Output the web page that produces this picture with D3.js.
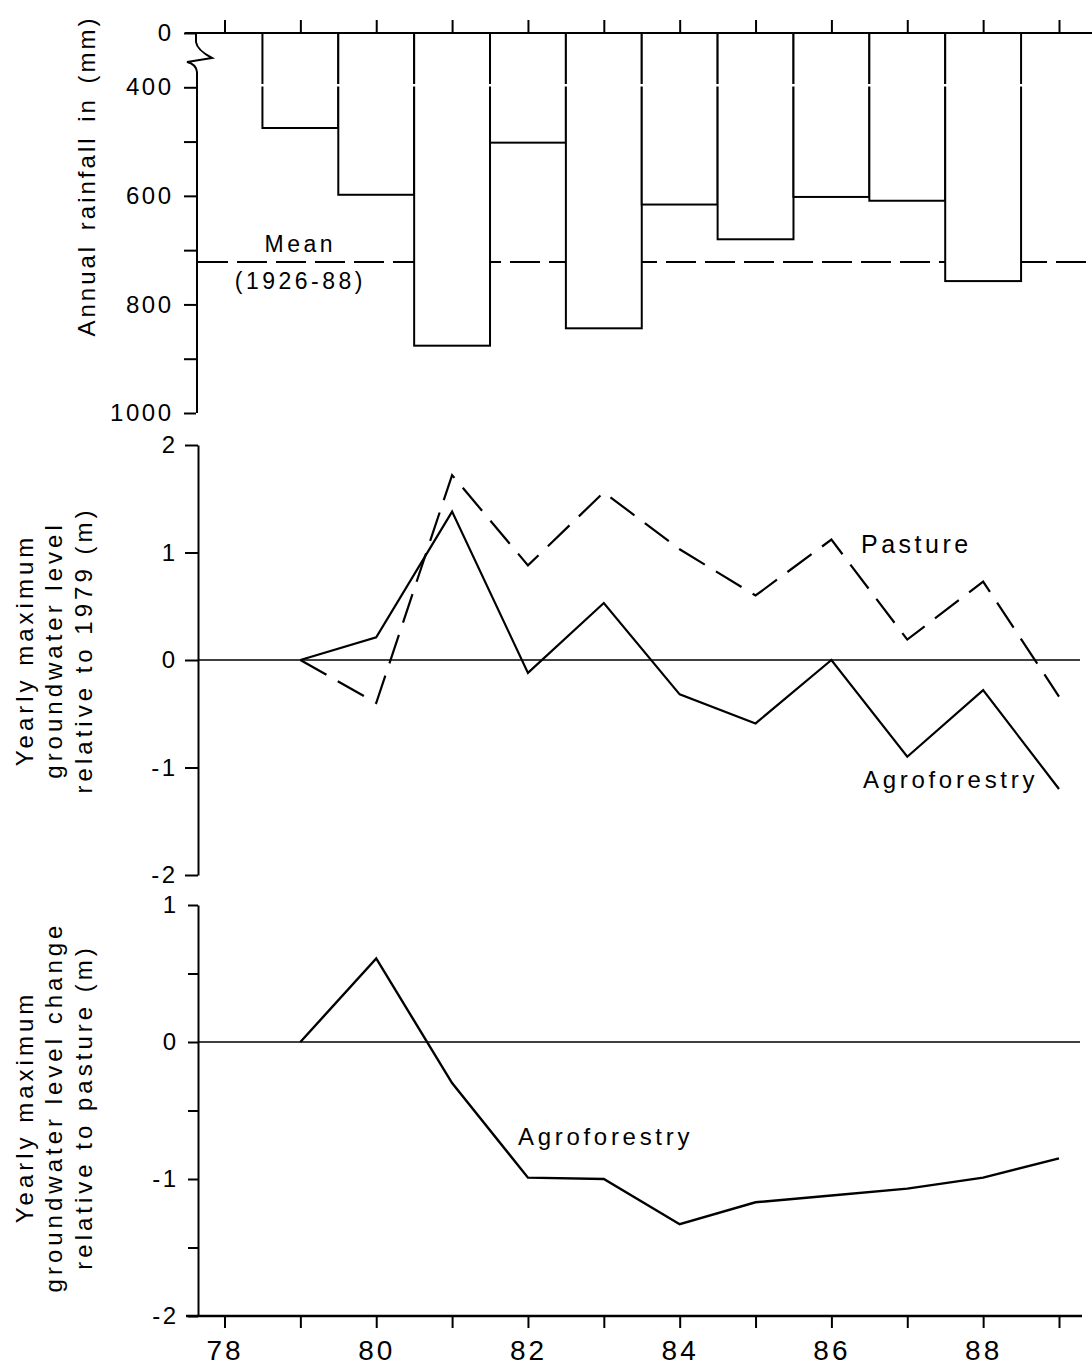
<!DOCTYPE html>
<html>
<head>
<meta charset="utf-8">
<script src="https://cdn.jsdelivr.net/npm/d3@7"></script>
<style>
  body { margin: 0; background: #fff; }
  svg { display: block; font-family: "Liberation Sans", Arial, sans-serif; }
  .axis text { font-size: 24px; letter-spacing: 2.5px; fill: #000; }
  .axis line, .axis path { stroke: #000; stroke-width: 2; }
  .title { font-size: 24px; letter-spacing: 4px; }
</style>
</head>
<body>
<div id="chart"></div>
<script>
// data
const tickYears = [78, 79, 80, 81, 82, 83, 84, 85, 86, 87, 88, 89];

const rainYears = [79, 80, 81, 82, 83, 84, 85, 86, 87, 88];
const rainfall = [475, 598, 876, 502, 844, 616, 680, 602, 609, 757];
const meanRainfall = 722;
const rainTicks = [300, 400, 500, 600, 700, 800, 900, 1000];

const levelYears = [79, 80, 81, 82, 83, 84, 85, 86, 87, 88, 89];
const agroLevel = [0, 0.21, 1.38, -0.12, 0.53, -0.32, -0.59, 0, -0.9, -0.28, -1.2];
const pastureLevel = [0, -0.4, 1.72, 0.88, 1.56, 1.03, 0.6, 1.12, 0.19, 0.73, -0.34];
const levelTicks = [-2, -1, 0, 1, 2];

const diffYears = [79, 80, 81, 82, 83, 84, 85, 86, 87, 88, 89];
const agroDiff = [0, 0.61, -0.3, -0.99, -1.0, -1.33, -1.17, -1.12, -1.07, -0.99, -0.85];
const diffTicks = [-2, -1.5, -1, -0.5, 0, 0.5, 1];

const width = 1092;
const height = 1366;

const svg = d3.select("#chart")
  .append("svg")
  .attr("width", width)
  .attr("height", height);

svg.append("rect").attr("width", width).attr("height", height).attr("fill", "#fff");

const x = d3.scaleLinear().domain([78, 89]).range([224.5, 1059]);

// ---------- top panel: rainfall ----------
const yRain = d3.scaleLinear().domain([300, 1000]).range([33, 413]);
const rainLeft = 196;

// mean line goes under the bars
svg.append("line")
  .attr("x1", rainLeft + 2).attr("x2", width)
  .attr("y1", yRain(meanRainfall)).attr("y2", yRain(meanRainfall))
  .attr("stroke", "#000").attr("stroke-width", 2)
  .attr("stroke-dasharray", "30,9");

svg.append("g")
  .selectAll("rect")
  .data(rainYears.map((yr, i) => ({ yr, v: rainfall[i] })))
  .join("rect")
  .attr("x", d => x(d.yr - 0.5))
  .attr("width", d => x(d.yr + 0.5) - x(d.yr - 0.5))
  .attr("y", yRain(300))
  .attr("height", d => yRain(d.v) - yRain(300))
  .attr("fill", "#fff")
  .attr("stroke", "#000")
  .attr("stroke-width", 2);

// small break in the bars (broken axis)
svg.append("rect")
  .attr("x", x(78.4)).attr("y", 84)
  .attr("width", x(88.6) - x(78.4)).attr("height", 2.5)
  .attr("fill", "#fff");

// top axis line with upward ticks
svg.append("line")
  .attr("x1", 185).attr("x2", width)
  .attr("y1", yRain(300)).attr("y2", yRain(300))
  .attr("stroke", "#000").attr("stroke-width", 2.2);

const topAxis = svg.append("g")
  .attr("class", "axis")
  .attr("transform", `translate(0,${yRain(300)})`)
  .call(d3.axisTop(x).tickValues(tickYears).tickSize(13).tickFormat(""));
topAxis.select(".domain").remove();

const rainAxis = svg.append("g")
  .attr("class", "axis")
  .attr("transform", `translate(${rainLeft},0)`)
  .call(d3.axisLeft(yRain)
    .tickValues(rainTicks)
    .tickSize(12)
    .tickPadding(10.5)
    .tickFormat(d => d === 300 ? "0" : (d % 200 === 0 ? d : "")));
rainAxis.select(".domain").remove();

// left axis with the break zigzag
svg.append("path")
  .attr("d", `M${rainLeft},${yRain(300)} L${rainLeft},42 Q${rainLeft + 1},50 ${rainLeft + 16},58 L${rainLeft - 9},62 Q${rainLeft},64 ${rainLeft + 1},72 L${rainLeft + 1},${yRain(1000)}`)
  .attr("fill", "none").attr("stroke", "#000").attr("stroke-width", 2);

svg.append("text")
  .attr("x", x(79)).attr("y", 252)
  .attr("text-anchor", "middle")
  .style("font-size", "23px").style("letter-spacing", "3.5px")
  .text("Mean");
svg.append("text")
  .attr("x", x(79)).attr("y", 289)
  .attr("text-anchor", "middle")
  .style("font-size", "23px").style("letter-spacing", "3.5px")
  .text("(1926-88)");

svg.append("text")
  .attr("class", "title")
  .attr("transform", "translate(95,176) rotate(-90)")
  .attr("text-anchor", "middle")
  .style("letter-spacing", "3px")
  .style("word-spacing", "4px")
  .text("Annual rainfall in (mm)");

// ---------- middle panel: groundwater level ----------
const yLev = d3.scaleLinear().domain([-2, 2]).range([875, 445]);
const levLeft = 198;

svg.append("g")
  .attr("class", "axis")
  .attr("transform", `translate(${levLeft},0)`)
  .call(d3.axisLeft(yLev)
    .tickValues(levelTicks)
    .tickSize(13)
    .tickSizeOuter(0)
    .tickPadding(7.5)
    .tickFormat(d => String(d)));

svg.append("line")
  .attr("x1", levLeft).attr("x2", 1080)
  .attr("y1", yLev(0)).attr("y2", yLev(0))
  .attr("stroke", "#000").attr("stroke-width", 1.6);

const levLine = d3.line()
  .x(d => x(d.yr))
  .y(d => yLev(d.v));

svg.append("path")
  .datum(levelYears.map((yr, i) => ({ yr, v: pastureLevel[i] })))
  .attr("d", levLine)
  .attr("fill", "none").attr("stroke", "#000").attr("stroke-width", 2.2)
  .attr("stroke-dasharray", "30,13");

svg.append("path")
  .datum(levelYears.map((yr, i) => ({ yr, v: agroLevel[i] })))
  .attr("d", levLine)
  .attr("fill", "none").attr("stroke", "#000").attr("stroke-width", 2.2)
  .attr("stroke-linejoin", "miter");

svg.append("text")
  .attr("x", 861).attr("y", 553)
  .style("font-size", "25px").style("letter-spacing", "3.5px")
  .text("Pasture");
svg.append("text")
  .attr("x", 863).attr("y", 788)
  .style("font-size", "24px").style("letter-spacing", "3.7px")
  .text("Agroforestry");

const levTitle = svg.append("text")
  .attr("class", "title")
  .attr("transform", "translate(0,650) rotate(-90)")
  .attr("text-anchor", "middle");
levTitle.append("tspan").attr("x", 0).attr("y", 33).text("Yearly maximum");
levTitle.append("tspan").attr("x", 0).attr("y", 62).text("groundwater level");
levTitle.append("tspan").attr("x", 0).attr("y", 92).text("relative to 1979 (m)");

// ---------- bottom panel: difference agroforestry - pasture ----------
const yDiff = d3.scaleLinear().domain([-2, 1]).range([1316, 905]);
const diffLeft = 198;

svg.append("g")
  .attr("class", "axis")
  .attr("transform", `translate(${diffLeft},0)`)
  .call(d3.axisLeft(yDiff)
    .tickValues(diffTicks)
    .tickSize(10)
    .tickSizeOuter(0)
    .tickPadding(9.5)
    .tickFormat(d => Number.isInteger(d) ? String(d) : ""));

svg.append("line")
  .attr("x1", diffLeft).attr("x2", 1080)
  .attr("y1", yDiff(0)).attr("y2", yDiff(0))
  .attr("stroke", "#000").attr("stroke-width", 1.6);

const diffLine = d3.line()
  .x(d => x(d.yr))
  .y(d => yDiff(d.v));

svg.append("path")
  .datum(diffYears.map((yr, i) => ({ yr, v: agroDiff[i] })))
  .attr("d", diffLine)
  .attr("fill", "none").attr("stroke", "#000").attr("stroke-width", 2.4);

svg.append("text")
  .attr("x", 518).attr("y", 1145)
  .style("font-size", "24px").style("letter-spacing", "3.7px")
  .text("Agroforestry");

// bottom x axis
svg.append("line")
  .attr("x1", 186).attr("x2", 1082)
  .attr("y1", yDiff(-2)).attr("y2", yDiff(-2))
  .attr("stroke", "#000").attr("stroke-width", 2.6);

const xAxis = svg.append("g")
  .attr("class", "axis")
  .attr("transform", `translate(0,${yDiff(-2)})`)
  .call(d3.axisBottom(x)
    .tickValues(tickYears)
    .tickSize(12)
    .tickPadding(12)
    .tickFormat(d => d % 2 === 0 ? d : ""));
xAxis.select(".domain").remove();
xAxis.selectAll("text").style("font-size", "28px").style("letter-spacing", "3px");

const diffTitle = svg.append("text")
  .attr("class", "title")
  .attr("transform", "translate(0,1107) rotate(-90)")
  .attr("text-anchor", "middle");
diffTitle.append("tspan").attr("x", 0).attr("y", 33).text("Yearly maximum");
diffTitle.append("tspan").attr("x", 0).attr("y", 62).text("groundwater level change");
diffTitle.append("tspan").attr("x", 0).attr("y", 92).text("relative to pasture (m)");
</script>
</body>
</html>
